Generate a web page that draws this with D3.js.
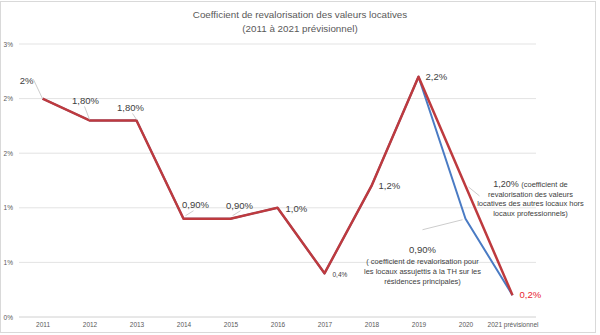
<!DOCTYPE html>
<html><head><meta charset="utf-8">
<script src="https://cdn.jsdelivr.net/npm/d3@7"></script>
<style>body{margin:0;background:#fff}svg{display:block}</style>
</head><body>
<svg id="c" width="600" height="335"></svg>
<script>
const years = ["2011","2012","2013","2014","2015","2016","2017","2018","2019","2020","2021 prévisionnel"];
const serieTH = [2.0,1.8,1.8,0.9,0.9,1.0,0.4,1.2,2.2,0.9,0.2];
const serieAutres = [2.0,1.8,1.8,0.9,0.9,1.0,0.4,1.2,2.2,1.2,0.2];
const yTicks = [0,0.5,1,1.5,2,2.5];
const pointLabels = ["2%","1,80%","1,80%","0,90%","0,90%","1,0%","0,4%","1,2%","2,2%",null,"0,2%"];
const titleLines = ["Coefficient de revalorisation des valeurs locatives","(2011 à 2021 prévisionnel)"];
const noteAutres = ["(coefficient de","revalorisation des valeurs","locatives des autres locaux hors","locaux professionnels)"];
const noteTH = ["( coefficient de revalorisation pour","les locaux assujettis à la TH sur les","résidences principales)"];

const F = "'Liberation Sans Narrow','Arial Narrow',sans-serif";
const svg = d3.select("#c");
svg.append("rect").attr("x",0.5).attr("y",1.5).attr("width",595).attr("height",331)
  .attr("fill","#fff").attr("stroke","#d9d9d9");

const x = d3.scalePoint().domain(years).range([19,536]).padding(0.5);
const y = d3.scaleLinear().domain([0,2.5]).range([317,44]);

// grid
svg.append("g").selectAll("line").data(yTicks).join("line")
  .attr("x1",19).attr("x2",536).attr("y1",d=>y(d)).attr("y2",d=>y(d))
  .attr("stroke",d=>d===0?"#d0d0d0":"#e3e3e3").attr("stroke-width",1);

// y axis
const ya = d3.axisLeft(y).tickValues(yTicks).tickSize(0).tickPadding(0)
  .tickFormat(d=>Math.round(d)+"%");
const yg = svg.append("g").attr("transform","translate(13,0)").call(ya);
yg.select(".domain").remove();
yg.selectAll("text").attr("font-family",F).attr("font-size",6.5).attr("fill","#595959");

// x axis
const xa = d3.axisBottom(x).tickSize(0).tickPadding(0);
const xg = svg.append("g").attr("transform","translate(0,322)").call(xa);
xg.select(".domain").remove();
xg.selectAll("text").attr("font-family",F).attr("font-size",6.5).attr("fill","#595959");

// title
svg.append("g").selectAll("text").data(titleLines).join("text")
  .attr("x",300).attr("y",(d,i)=>18+i*14).attr("text-anchor","middle")
  .attr("font-family",F).attr("font-size",9.8).attr("fill","#595959").text(d=>d);

// lines
const line = d3.line().x((d,i)=>x(years[i])).y(d=>y(d));
svg.append("path").datum(serieTH).attr("d",line).attr("fill","none")
  .attr("stroke","#4a7bc4").attr("stroke-width",2).attr("stroke-linejoin","round");
svg.append("path").datum(serieAutres).attr("d",line).attr("fill","none")
  .attr("stroke","#be3a3e").attr("stroke-width",2.5).attr("stroke-linejoin","round");

// leader lines (offsets relative to data points)
const lead = svg.append("g").attr("stroke","#cdcdcd").attr("stroke-width",1).attr("fill","none");
const px = i=>x(years[i]), py = (s,i)=>y(s[i]);
function leader(x1,y1,x2,y2){ lead.append("line").attr("x1",x1).attr("y1",y1).attr("x2",x2).attr("y2",y2); }
leader(px(0)-9,py(serieAutres,0)-19,px(0),py(serieAutres,0));
leader(px(0)-9,py(serieAutres,0)-19,px(0)-11,py(serieAutres,0)-19);
leader(px(1)-5,py(serieAutres,1)-14,px(1),py(serieAutres,1)-1);
leader(px(2)-4,py(serieAutres,2)-7,px(2),py(serieAutres,2)-1);
leader(px(3)+2,py(serieAutres,3)-3,px(3)+10,py(serieAutres,3)-8);
leader(px(4)+2,py(serieAutres,4)-3,px(4)+10,py(serieAutres,4)-8);
leader(px(9)+3,py(serieAutres,9)+1,px(9)+14,py(serieAutres,9)+10);
leader(px(9)-43,py(serieTH,9)+11,px(9)-3,py(serieTH,9)+1);

// point labels
const lab = svg.append("g").attr("font-family",F).attr("fill","#404040");
const labPos = [
  {i:0,dx:-16,dy:-15,a:"middle",fs:9.5},
  {i:1,dx:-4,dy:-16,a:"middle",fs:9.5},
  {i:2,dx:-6,dy:-9,a:"middle",fs:9.5},
  {i:3,dx:12,dy:-11,a:"middle",fs:9.5},
  {i:4,dx:9,dy:-10,a:"middle",fs:9.5},
  {i:5,dx:8,dy:4,a:"start",fs:9.5},
  {i:6,dx:8,dy:4,a:"start",fs:6.5},
  {i:7,dx:7,dy:3,a:"start",fs:9.5},
  {i:8,dx:7,dy:3,a:"start",fs:9.5},
  {i:10,dx:7,dy:3,a:"start",fs:9.5,c:"#e8242f"}
];
labPos.forEach(p=>{
  lab.append("text").attr("x",px(p.i)+p.dx).attr("y",py(serieAutres,p.i)+p.dy)
    .attr("text-anchor",p.a).attr("font-size",p.fs).attr("fill",p.c||"#404040")
    .text(pointLabels[p.i]);
});

// note for "autres locaux" series (2020)
const n1x = px(9)+65, n1y = py(serieAutres,9)+1;
const t1 = lab.append("text").attr("text-anchor","middle").attr("font-size",7.5);
noteAutres.forEach((s,k)=>{
  const ts = t1.append("tspan").attr("x",n1x).attr("y",n1y+k*9.7);
  if(k===0){ ts.append("tspan").attr("font-size",9).text("1,20% "); ts.append("tspan").text(s); }
  else ts.text(s);
});

// note for TH series (2020)
const n2x = px(9)-43, n2y = py(serieTH,9)+34;
lab.append("text").attr("x",n2x).attr("y",n2y).attr("text-anchor","middle").attr("font-size",9.5).text("0,90%");
const t2 = lab.append("text").attr("text-anchor","middle").attr("font-size",7.5);
noteTH.forEach((s,k)=>t2.append("tspan").attr("x",n2x).attr("y",n2y+11+k*10).text(s));
</script>
</body></html>
